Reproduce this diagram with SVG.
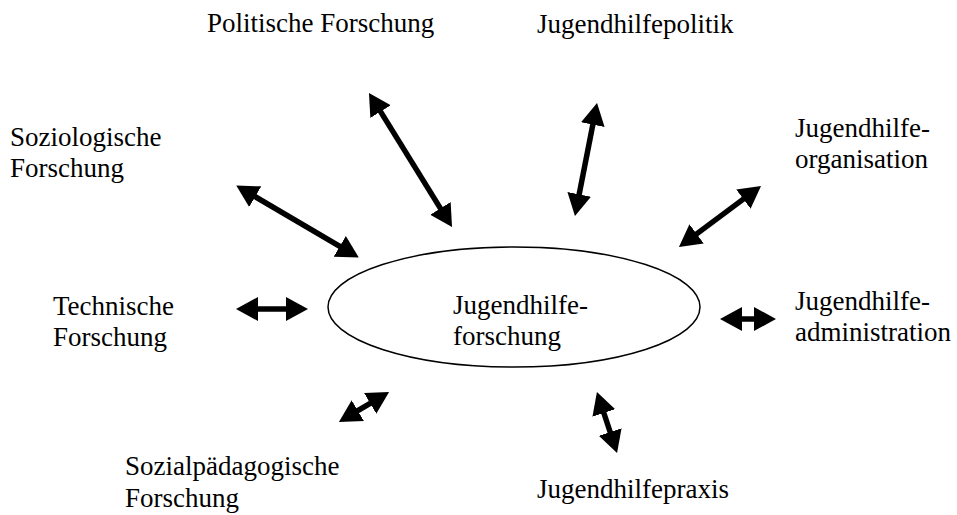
<svg xmlns="http://www.w3.org/2000/svg" width="957" height="515" viewBox="0 0 957 515">
<style>
.t { font-family: 'Liberation Serif', 'DejaVu Serif', serif; font-size: 27px; fill: #000; }
.c { stroke: #000; stroke-width: 5.5; fill: none; marker-start: url(#ah); marker-end: url(#ah); }
</style>
<defs>
<marker id="ah" markerUnits="userSpaceOnUse" viewBox="0 -13 24 26" refX="2" refY="0" markerWidth="24" markerHeight="26" orient="auto-start-reverse">
<path d="M0,-12 L22,0 L0,12 Z" fill="#000"/>
</marker>
</defs>
<rect width="957" height="515" fill="#fff"/>
<g id="connectors">
<line class="c" x1="253.5" y1="195.7" x2="341.5" y2="247.3"/>
<line class="c" x1="379.5" y1="109.9" x2="441.5" y2="210.1"/>
<line class="c" x1="593.2" y1="122.7" x2="578.8" y2="196.3"/>
<line class="c" x1="745.0" y1="197.9" x2="695.0" y2="235.1"/>
<line class="c" x1="256" y1="309" x2="288" y2="309"/>
<line class="c" x1="356.1" y1="411.7" x2="371.9" y2="402.3"/>
<line class="c" x1="740" y1="319" x2="756" y2="319"/>
<line class="c" x1="603.2" y1="411.0" x2="610.8" y2="434.0"/>
</g>
<g class="t" font-family="Liberation Serif, serif">
<g id="center">
<ellipse cx="514" cy="307" rx="186" ry="60" fill="none" stroke="#000" stroke-width="1.5"/>
<text x="453" y="314">Jugendhilfe-</text>
<text x="453" y="345">forschung</text>
</g>
<g id="politische"><text x="207" y="32">Politische Forschung</text></g>
<g id="politik"><text x="537" y="33">Jugendhilfepolitik</text></g>
<g id="soziologische"><text x="10" y="146">Soziologische</text><text x="10" y="177">Forschung</text></g>
<g id="organisation"><text x="795" y="137">Jugendhilfe-</text><text x="795" y="168">organisation</text></g>
<g id="technische"><text x="53" y="315">Technische</text><text x="53" y="346">Forschung</text></g>
<g id="administration"><text x="795" y="310">Jugendhilfe-</text><text x="795" y="341">administration</text></g>
<g id="sozialpaed"><text x="125" y="475">Sozialpädagogische</text><text x="125" y="507">Forschung</text></g>
<g id="praxis"><text x="537" y="498">Jugendhilfepraxis</text></g>
</g>
</svg>
